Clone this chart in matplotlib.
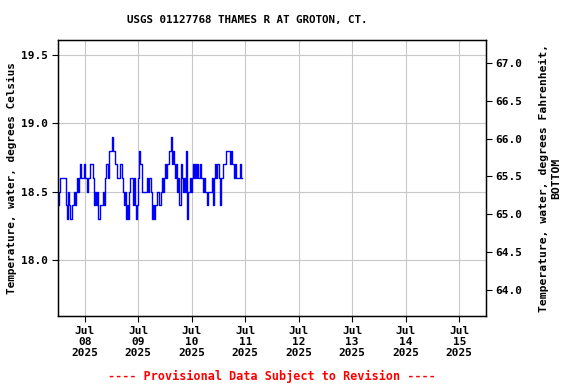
import matplotlib
matplotlib.use("Agg")
import matplotlib.pyplot as plt
import numpy as np
import pandas as pd

# Water temperature, deg C at ~30 minute spacing
start_time = "2025-07-07 12:00"
step_minutes = 30
temp_c = [
    18.4, 18.5, 18.6, 18.6, 18.6, 18.6, 18.6, 18.4, 18.3, 18.5,
    18.4, 18.3, 18.3, 18.4, 18.5, 18.4, 18.5, 18.6, 18.5, 18.6,
    18.7, 18.6, 18.6, 18.7, 18.6, 18.6, 18.5, 18.6, 18.6, 18.7,
    18.7, 18.6, 18.4, 18.5, 18.4, 18.5, 18.3, 18.3, 18.4, 18.4,
    18.5, 18.4, 18.6, 18.7, 18.7, 18.6, 18.8, 18.8, 18.9, 18.8,
    18.8, 18.7, 18.7, 18.6, 18.6, 18.6, 18.7, 18.6, 18.5, 18.4,
    18.5, 18.3, 18.4, 18.3, 18.5, 18.6, 18.6, 18.4, 18.6, 18.4,
    18.3, 18.4, 18.6, 18.8, 18.7, 18.5, 18.5, 18.5, 18.5, 18.5,
    18.6, 18.5, 18.6, 18.5, 18.3, 18.4, 18.3, 18.4, 18.4, 18.5,
    18.5, 18.4, 18.5, 18.6, 18.5, 18.6, 18.7, 18.6, 18.7, 18.7,
    18.8, 18.9, 18.7, 18.8, 18.7, 18.6, 18.7, 18.5, 18.6, 18.4,
    18.7, 18.6, 18.5, 18.6, 18.5, 18.8, 18.3, 18.5, 18.6, 18.5,
    18.6, 18.7, 18.6, 18.7, 18.6, 18.7, 18.6, 18.7, 18.6, 18.6,
    18.5, 18.6, 18.5, 18.5, 18.4, 18.5, 18.5, 18.5, 18.6, 18.4,
    18.6, 18.7, 18.6, 18.7, 18.6, 18.4, 18.6, 18.6, 18.7, 18.7,
    18.7, 18.8, 18.8, 18.8, 18.7, 18.8, 18.7, 18.7, 18.6, 18.7,
    18.6, 18.6, 18.6, 18.7, 18.6, 18.6,
]
tick_days = pd.date_range("2025-07-08", "2025-07-15", freq="D")
x_range = ("2025-07-07 12:00", "2025-07-15 12:00")
y_range = (17.59, 19.61)
left_ticks = [18.0, 18.5, 19.0, 19.5]
right_ticks = [64.0, 64.5, 65.0, 65.5, 66.0, 66.5, 67.0]

times = pd.date_range(start_time, periods=len(temp_c), freq=f"{step_minutes}min")

font = "DejaVu Sans Mono"
fig = plt.figure(figsize=(5.76, 3.84), dpi=100)
ax = fig.add_axes([58 / 576, 1 - 316 / 384, 428 / 576, 276 / 384])

ax.plot(times, temp_c, color="#0000ff", linewidth=1.0, drawstyle="steps-post")

ax.set_xlim(pd.Timestamp(x_range[0]), pd.Timestamp(x_range[1]))
ax.set_ylim(*y_range)
ax.set_xticks(tick_days)
ax.set_xticklabels([d.strftime("%b\n%d\n%Y") for d in tick_days],
                   fontfamily=font, fontweight="bold", fontsize=8, linespacing=1.15)
ax.set_yticks(left_ticks)
ax.set_yticklabels([f"{v:.1f}" for v in left_ticks],
                   fontfamily=font, fontweight="bold", fontsize=8)
ax.grid(True, color="#c8c8c8", linewidth=0.8)
ax.tick_params(direction="out", length=4, color="black", pad=3)
ax.set_ylabel("Temperature, water, degrees Celsius",
              fontfamily=font, fontweight="bold", fontsize=7.9, labelpad=3)
for s in ax.spines.values():
    s.set_linewidth(1.0)

# Fahrenheit axis on the right
ax2 = ax.twinx()
ax2.set_ylim(y_range[0] * 9 / 5 + 32, y_range[1] * 9 / 5 + 32)
ax2.set_yticks(right_ticks)
ax2.set_yticklabels([f"{v:.1f}" for v in right_ticks],
                    fontfamily=font, fontweight="bold", fontsize=8)
ax2.tick_params(direction="out", length=4, pad=3)
ax2.set_ylabel("Temperature, water, degrees Fahrenheit,\nBOTTOM",
               fontfamily=font, fontweight="bold", fontsize=8.2,
               labelpad=12, linespacing=1.25)

fig.text(247 / 576, 1 - 20 / 384, "USGS 01127768 THAMES R AT GROTON, CT.",
         ha="center", va="center", fontfamily=font, fontweight="bold", fontsize=7.8)
fig.text(272 / 576, 1 - 376 / 384, "---- Provisional Data Subject to Revision ----",
         ha="center", va="center", fontfamily=font, fontweight="bold",
         fontsize=8.5, color="red")

fig.savefig("out.png", dpi=100)
